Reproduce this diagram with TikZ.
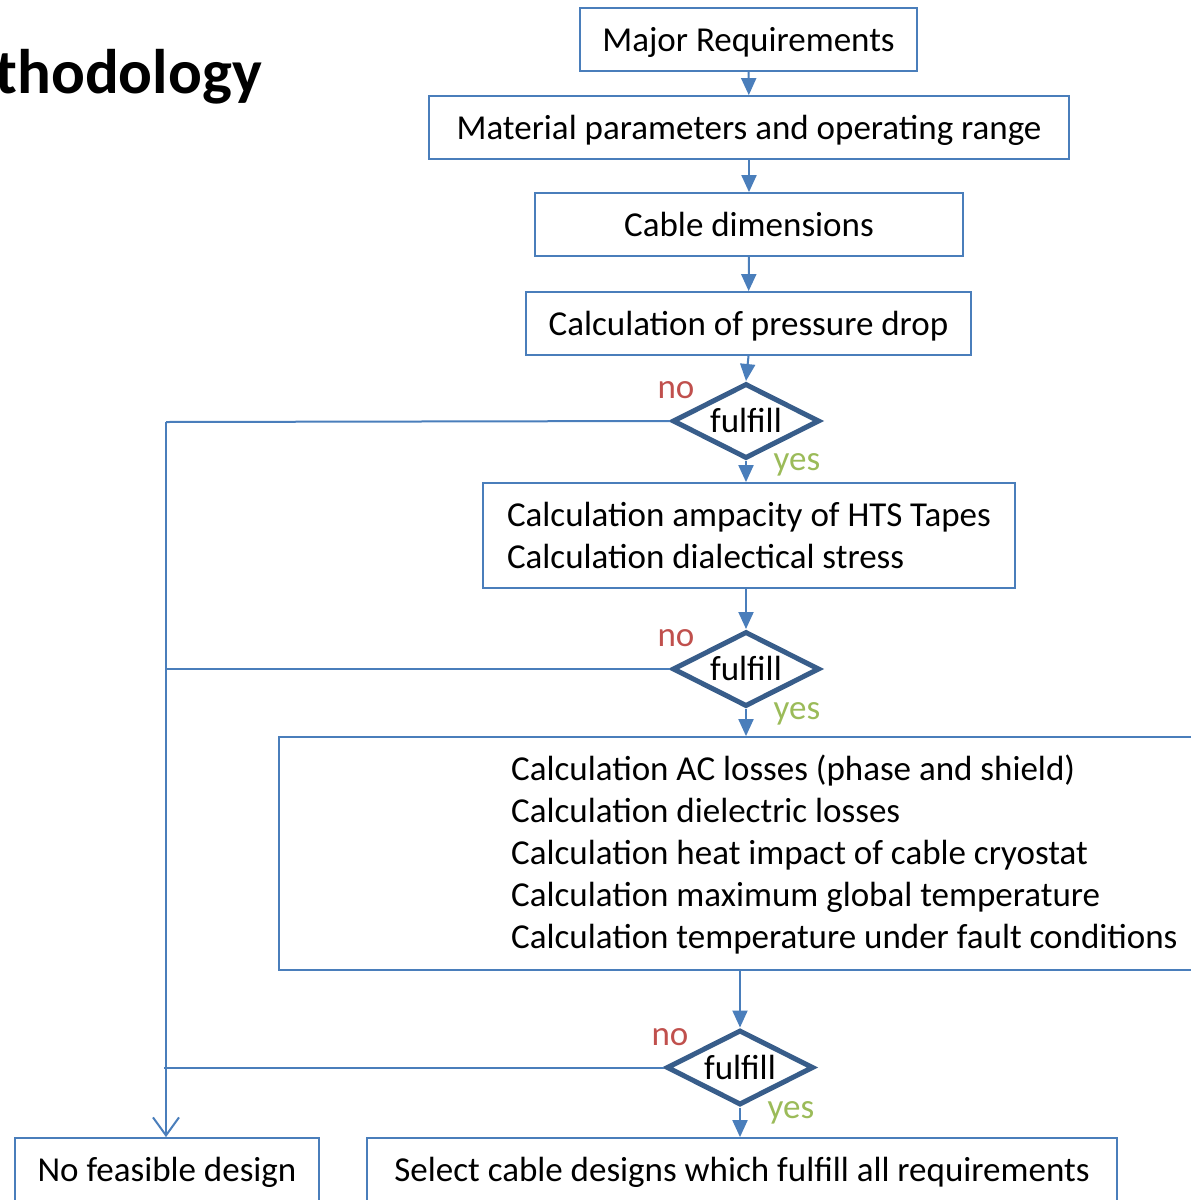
\documentclass[tikz,border=0pt]{standalone}
\usepackage{fontspec}
\setmainfont{Carlito}
\usetikzlibrary{shapes.geometric,arrows.meta}
\definecolor{lineblue}{HTML}{4A7EBB}
\definecolor{diamblue}{HTML}{385D8A}
\definecolor{noRed}{HTML}{C0504D}
\definecolor{yesGreen}{HTML}{9BBB59}
\tikzset{
  box/.style={draw=lineblue, line width=1.8pt, inner sep=0pt, minimum height=63pt},
  onebox/.style={box, text height=31pt, text depth=8pt},
  decision/.style={draw=diamblue, line width=5pt, shape=diamond, aspect=2, inner sep=0pt, minimum width=147pt, minimum height=75pt, fill=white, text height=29pt, text depth=6pt},
  flow/.style={draw=lineblue, line width=2pt, -{Triangle[length=17pt,width=15pt]}},
  plain/.style={draw=lineblue, line width=2pt},
  nolbl/.style={text=noRed, inner sep=0pt},
  yeslbl/.style={text=yesGreen, inner sep=0pt}
}
\begin{document}
\begin{tikzpicture}[x=1pt,y=-1pt,font=\fontsize{35}{42}\selectfont]
\useasboundingbox (0,0) rectangle (1191,1200);
\clip (0,0) rectangle (1191,1200);

\node[anchor=base east, inner sep=0pt, font=\fontsize{63}{72}\selectfont\bfseries] (title) at (262,93) {thodology};

\node[onebox, minimum width=337pt] (b1) at (748.5,39.5) {Major Requirements};
\node[onebox, minimum width=640pt] (b2) at (749,127.5) {Material parameters and operating range};
\node[onebox, minimum width=428pt] (b3) at (749,224.5) {Cable dimensions};
\node[onebox, minimum width=445pt] (b4) at (748.5,323.5) {Calculation of pressure drop};
\node[decision] (d1) at (746,421) {fulfill};
\node[box, minimum width=532pt, minimum height=105pt, align=left] (b5) at (749,535.5) {Calculation ampacity of HTS Tapes\\Calculation dialectical stress};
\node[decision] (d2) at (746,669) {fulfill};
\node[box, minimum width=982pt, minimum height=233pt] (b6) at (770,853.5) {};
\node[anchor=west, inner sep=0pt, align=left] (b6t) at (511,855) {Calculation AC losses (phase and shield)\\Calculation dielectric losses\\Calculation heat impact of cable cryostat\\Calculation maximum global temperature\\Calculation temperature under fault conditions};
\node[decision] (d3) at (740,1067.5) {fulfill};
\node[onebox, minimum width=304pt] (b7) at (167,1169.5) {No feasible design};
\node[onebox, minimum width=750pt] (b8) at (742,1169.5) {Select cable designs which fulfill all requirements};

\node[nolbl] (n1) at (676,390) {no};
\node[yeslbl] (y1) at (797,465) {yes};
\node[nolbl] (n2) at (676,638) {no};
\node[yeslbl] (y2) at (797,714) {yes};
\node[nolbl] (n3) at (670,1037) {no};
\node[yeslbl] (y3) at (791,1113) {yes};

\coordinate (c1) at (166,422);
\coordinate (c2) at (166,669);
\coordinate (c3) at (164,1067.5);

\draw[flow] (b1) -- (b2);
\draw[flow] (b2) -- (b3);
\draw[flow] (b3) -- (b4);
\draw[flow] (b4.south) -- (d1.north);
\draw[flow] (d1.south) -- (d1.south |- b5.north);
\draw[flow] (d2.north |- b5.south) -- (d2.north);
\draw[flow] (d2.south) -- (d2.south |- b6.north);
\draw[flow] (d3.north |- b6.south) -- (d3.north);
\draw[flow] (d3.south) -- (d3.south |- b8.north);

\draw[plain] (d1.west) -- (c1);
\draw[plain] (d2.west) -- (c2);
\draw[plain] (d3.west) -- (c3);
\draw[plain, -{Straight Barb[length=18pt,width=26pt,line width=2pt]}] (c1) -- (c1 |- b7.north);
\end{tikzpicture}
\end{document}
